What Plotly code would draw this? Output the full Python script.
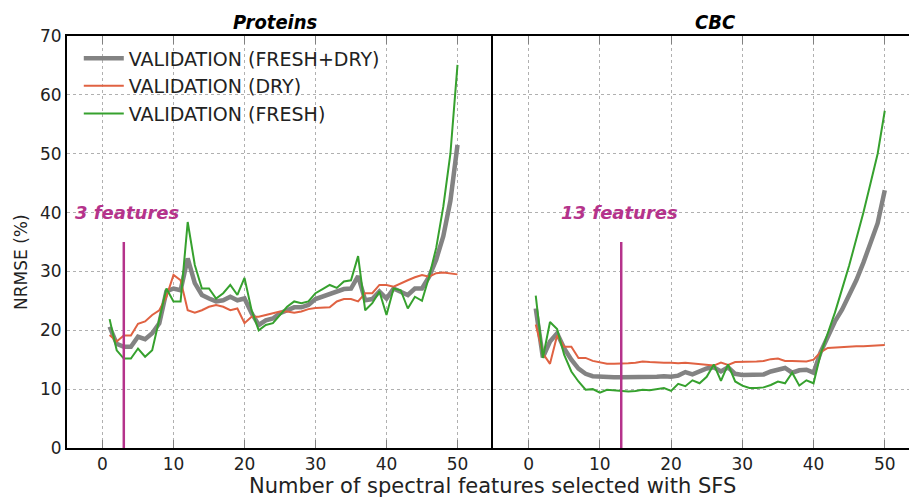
import plotly.graph_objects as go

n_features = list(range(1, 51))

# Proteins panel
prot_fresh_dry = [20.6, 17.7, 17.2, 17.2, 18.9, 18.5, 19.5, 21.2, 26.6, 27.1,
                  26.8, 32.2, 28.0, 26.0, 25.4, 24.9, 25.1, 25.7, 25.1, 25.4,
                  22.9, 20.9, 21.7, 22.0, 22.9, 23.5, 23.9, 23.9, 24.3, 25.3,
                  25.7, 26.1, 26.6, 27.0, 27.1, 29.2, 25.1, 25.3, 26.6, 25.4,
                  27.1, 26.6, 26.0, 27.1, 27.1, 29.1, 32.0, 36.0, 42.0, 51.5]
prot_dry = [19.2, 18.1, 19.1, 19.1, 21.1, 21.5, 22.6, 23.4, 25.7, 29.4,
            28.5, 23.4, 23.0, 23.4, 24.0, 24.3, 24.0, 23.4, 23.7, 21.2,
            22.3, 22.3, 22.6, 22.9, 23.2, 23.2, 23.0, 23.2, 23.6, 23.8,
            23.9, 23.9, 24.9, 25.3, 25.3, 24.9, 26.3, 26.3, 27.7, 27.7,
            27.4, 28.0, 28.5, 29.0, 29.4, 29.1, 29.7, 29.8, 29.7, 29.5]
prot_fresh = [21.9, 16.6, 15.2, 15.2, 16.9, 15.5, 16.6, 21.7, 27.1, 24.9,
              24.9, 38.4, 31.1, 27.1, 27.1, 25.4, 26.3, 27.7, 26.0, 28.9,
              23.4, 20.0, 20.9, 21.2, 22.6, 24.0, 24.9, 24.6, 24.9, 26.3,
              27.0, 27.7, 27.2, 28.3, 28.5, 32.6, 23.4, 24.6, 26.6, 22.6,
              27.1, 26.8, 23.7, 25.7, 25.0, 29.1, 34.0, 41.0, 50.0, 65.1]

# CBC panel
cbc_fresh_dry = [23.7, 15.4, 18.1, 19.5, 16.9, 15.0, 13.5, 12.6, 12.2, 12.1,
                 12.0, 12.0, 12.0, 12.0, 12.0, 12.1, 12.1, 12.1, 12.2, 12.1,
                 12.3, 12.9, 12.5, 13.0, 13.5, 13.7, 13.0, 13.7, 12.6, 12.4,
                 12.4, 12.4, 12.5, 13.0, 13.3, 13.6, 12.8, 13.2, 13.3, 12.8,
                 16.3, 19.0, 21.5, 23.5, 26.0, 28.5, 31.5, 35.0, 38.2, 43.8]
cbc_dry = [21.0, 16.1, 14.3, 19.1, 17.2, 17.2, 15.3, 15.3, 14.8, 14.6,
           14.3, 14.3, 14.3, 14.4, 14.5, 14.7, 14.6, 14.5, 14.5, 14.5,
           14.4, 14.5, 14.4, 14.3, 14.2, 14.0, 14.5, 14.1, 14.6, 14.6,
           14.6, 14.7, 14.8, 15.1, 15.2, 14.8, 14.8, 14.8, 14.7, 15.0,
           16.3, 17.0, 17.1, 17.2, 17.2, 17.3, 17.3, 17.4, 17.5, 17.5]
cbc_fresh = [25.9, 15.3, 21.4, 20.2, 15.8, 13.0, 11.3, 9.9, 10.0, 9.4,
             9.9, 9.8, 9.6, 9.6, 9.7, 9.9, 9.8, 10.0, 10.2, 9.7,
             10.9, 10.5, 11.5, 11.0, 12.1, 14.2, 11.4, 14.2, 11.3, 10.6,
             10.2, 10.2, 10.3, 10.7, 11.3, 11.0, 12.8, 10.6, 11.5, 11.0,
             16.0, 19.5, 23.0, 27.0, 31.0, 35.5, 40.0, 45.0, 50.0, 57.3]

selected_features = [3, 13]
selected_labels = ["3 features", "13 features"]
marker_top = 35

x_ticks = [0, 10, 20, 30, 40, 50]
y_ticks = [0, 10, 20, 30, 40, 50, 60, 70]

GRAY = "#838383"
RED = "#e06242"
GREEN = "#36a12e"
MAGENTA = "#b5338b"
FONT = "DejaVu Sans"
TITLE_FONT = "DejaVu Sans Condensed, Liberation Sans"
TXT = "#222222"

fig = go.Figure()

series = [
    ("VALIDATION (FRESH+DRY)", prot_fresh_dry, cbc_fresh_dry, GRAY, 4.5),
    ("VALIDATION (DRY)", prot_dry, cbc_dry, RED, 2),
    ("VALIDATION (FRESH)", prot_fresh, cbc_fresh, GREEN, 2),
]
for name, pv, cv, col, w in series:
    fig.add_trace(go.Scatter(x=n_features, y=pv, mode="lines", name=name,
                             line=dict(color=col, width=w), xaxis="x", yaxis="y",
                             legendgroup=name))
    fig.add_trace(go.Scatter(x=n_features, y=cv, mode="lines", name=name,
                             line=dict(color=col, width=w), xaxis="x2", yaxis="y2",
                             legendgroup=name, showlegend=False))

for i, (sf, lab) in enumerate(zip(selected_features, selected_labels)):
    xa = "x" if i == 0 else "x2"
    ya = "y" if i == 0 else "y2"
    fig.add_trace(go.Scatter(x=[sf, sf], y=[0, marker_top], mode="lines",
                             line=dict(color=MAGENTA, width=2.5), xaxis=xa, yaxis=ya,
                             showlegend=False))

ax_common = dict(tickvals=x_ticks, showgrid=True, gridcolor="#b0b0b0", griddash="dot",
                 gridwidth=1, zeroline=False, showline=True, linecolor="black",
                 linewidth=2, mirror="ticks", ticks="inside", ticklen=8, tickcolor="#808080",
                 tickfont=dict(family=FONT, size=17, color=TXT))

split = 426 / 842
fig.update_layout(
    width=909, height=501,
    margin=dict(l=67, r=0, t=36, b=53),
    plot_bgcolor="white", paper_bgcolor="white",
    xaxis=dict(domain=[0, split], range=[-5, 55], **ax_common),
    xaxis2=dict(domain=[split, 1], range=[-5, 53.4], anchor="y2", **ax_common),
    yaxis=dict(range=[0, 70], tickvals=y_ticks, showgrid=True, gridcolor="#b0b0b0",
               griddash="dot", zeroline=False, showline=True, linecolor="black",
               linewidth=2, mirror=False, ticks="", anchor="x",
               tickfont=dict(family=FONT, size=17, color=TXT)),
    yaxis2=dict(range=[0, 70], tickvals=y_ticks, showticklabels=False, showgrid=True,
                gridcolor="#b0b0b0", griddash="dot", zeroline=False, showline=True,
                linecolor="black", linewidth=2, anchor="x2", ticks=""),
    legend=dict(x=0.014, y=0.992, xanchor="left", yanchor="top", bgcolor="rgba(0,0,0,0)",
                font=dict(family=FONT, size=19, color=TXT), tracegroupgap=0,
                itemwidth=40),
    showlegend=True,
)

anns = []
anns.append(dict(text="<b><i>Proteins</i></b>", x=(275 - 67) / 842, y=1.0, xref="paper",
                 yref="paper", xanchor="center", yanchor="bottom", yshift=0,
                 showarrow=False, font=dict(family=TITLE_FONT, size=20, color="black")))
anns.append(dict(text="<b><i>CBC</i></b>", x=(715 - 67) / 842, y=1.0, xref="paper",
                 yref="paper", xanchor="center", yanchor="bottom", yshift=0,
                 showarrow=False, font=dict(family=TITLE_FONT, size=20, color="black")))
anns.append(dict(text="Number of spectral features selected with SFS", x=(492 - 67) / 842,
                 y=0, xref="paper", yref="paper", xanchor="center", yanchor="top",
                 yshift=-24, showarrow=False, font=dict(family=FONT, size=21, color=TXT)))
anns.append(dict(text="NRMSE (%)", x=0, y=(448 - 262) / 412, xref="paper", yref="paper",
                 xanchor="center", yanchor="middle", xshift=-46, textangle=-90,
                 showarrow=False, font=dict(family=FONT, size=17, color=TXT)))
label_x = [-4.1, 4.2]
for i, (lx, lab) in enumerate(zip(label_x, selected_labels)):
    anns.append(dict(text="<b><i>" + lab + "</i></b>", x=lx, y=40,
                     xref="x" if i == 0 else "x2", yref="y" if i == 0 else "y2",
                     xanchor="left", yanchor="middle", showarrow=False,
                     font=dict(family=FONT, size=18, color=MAGENTA)))
fig.update_layout(annotations=anns)

fig.write_html("out.html")
